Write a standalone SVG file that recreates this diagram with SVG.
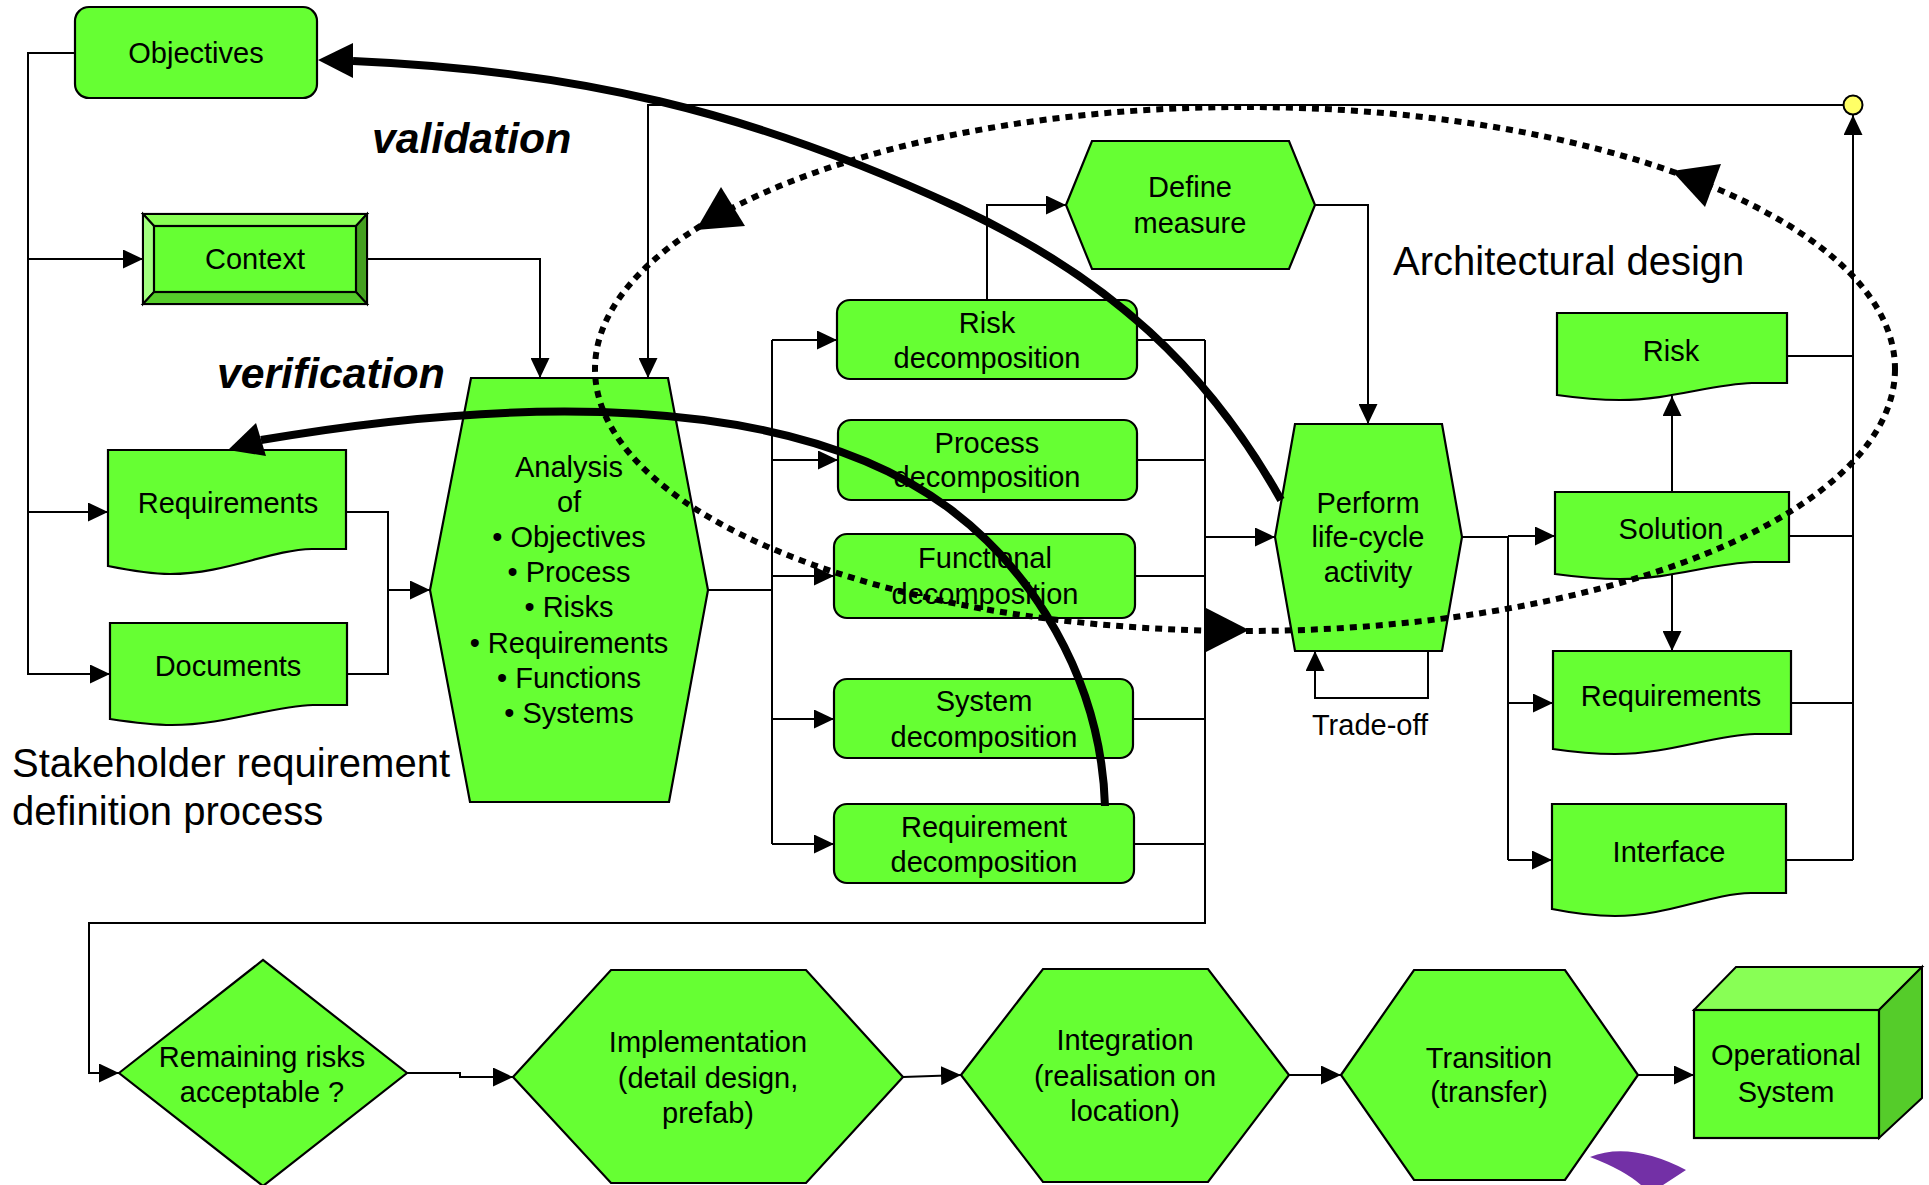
<svg xmlns="http://www.w3.org/2000/svg" width="1929" height="1185" viewBox="0 0 1929 1185">
  <defs>
    <style>
      .n { fill: #66ff33; stroke: #000; stroke-width: 2.2; stroke-linejoin: miter; }
      .lt { fill: #88ff55; stroke: #000; stroke-width: 2; }
      .lt2 { fill: #a2ff80; stroke: #000; stroke-width: 2; }
      .dk { fill: #55cc2a; stroke: #000; stroke-width: 2; }
      .dk2 { fill: #44a020; stroke: #000; stroke-width: 2; }
      .t { font-family: "Liberation Sans", Arial, sans-serif; font-size: 29px; text-anchor: middle; fill: #000; }
      .big { font-family: "Liberation Sans", Arial, sans-serif; font-size: 40px; fill: #000; }
      .bi { font-family: "Liberation Sans", Arial, sans-serif; font-size: 42.7px; font-weight: bold; font-style: italic; fill: #000; }
      .w { fill: none; stroke: #000; stroke-width: 2; }
      .a { fill: none; stroke: #000; stroke-width: 2; marker-end: url(#ah); }
      .thick { fill: none; stroke: #000; stroke-width: 8; }
      .dot { fill: none; stroke: #000; stroke-width: 6; stroke-dasharray: 7 6; }
    </style>
    <marker id="ah" viewBox="0 0 10 10" refX="10" refY="5" markerWidth="20" markerHeight="19" markerUnits="userSpaceOnUse" orient="auto" preserveAspectRatio="none">
      <path d="M0,0 L10,5 L0,10 Z" fill="#000"/>
    </marker>
  </defs>

  <rect width="1929" height="1185" fill="#fff"/>

  <!-- free labels -->
  <text class="bi" x="372" y="153">validation</text>
  <text class="bi" x="217" y="388">verification</text>
  <text class="big" x="12" y="777">Stakeholder requirement</text>
  <text class="big" x="12" y="825">definition process</text>
  <text class="big" x="1393" y="275">Architectural design</text>
  <text class="t" x="1370" y="735">Trade-off</text>

  <!-- nodes -->
  <g id="objectives">
    <rect class="n" x="75" y="7" width="242" height="91" rx="14"/>
    <text class="t" x="196" y="63">Objectives</text>
  </g>

  <g id="context">
    <rect class="n" x="143" y="214" width="224" height="90"/>
    <polygon class="lt" points="143,214 367,214 356,226 154,226"/>
    <polygon class="lt2" points="143,214 154,226 154,292 143,304"/>
    <polygon class="dk2" points="367,214 367,304 356,292 356,226"/>
    <polygon class="dk" points="143,304 154,292 356,292 367,304"/>
    <rect class="n" x="154" y="226" width="202" height="66"/>
    <text class="t" x="255" y="269">Context</text>
  </g>

  <g id="requirements-stakeholder">
    <path class="n" d="M108,450 H346 V549 L312,549 C270,550 225,574 170,574 C150,574 128,570 108,566 Z"/>
    <text class="t" x="228" y="513">Requirements</text>
  </g>

  <g id="documents">
    <path class="n" d="M110,623 H347 V705 L313,705 C271,706 226,725 172,725 C152,725 130,722 110,719 Z"/>
    <text class="t" x="228" y="676">Documents</text>
  </g>

  <g id="analysis">
    <polygon class="n" points="471,378 668,378 708,590 669,802 470,802 430,590"/>
    <text class="t" x="569" y="477">Analysis</text>
    <text class="t" x="569" y="512">of</text>
    <text class="t" x="569" y="547">• Objectives</text>
    <text class="t" x="569" y="582">• Process</text>
    <text class="t" x="569" y="617">• Risks</text>
    <text class="t" x="569" y="653">• Requirements</text>
    <text class="t" x="569" y="688">• Functions</text>
    <text class="t" x="569" y="723">• Systems</text>
  </g>

  <g id="risk-decomposition">
    <rect class="n" x="837" y="300" width="300" height="79" rx="13"/>
    <text class="t" x="987" y="333">Risk</text>
    <text class="t" x="987" y="368">decomposition</text>
  </g>

  <g id="process-decomposition">
    <rect class="n" x="838" y="420" width="299" height="80" rx="13"/>
    <text class="t" x="987" y="453">Process</text>
    <text class="t" x="987" y="487">decomposition</text>
  </g>

  <g id="functional-decomposition">
    <rect class="n" x="834" y="534" width="301" height="84" rx="13"/>
    <text class="t" x="985" y="568">Functional</text>
    <text class="t" x="985" y="604">decomposition</text>
  </g>

  <g id="system-decomposition">
    <rect class="n" x="834" y="679" width="299" height="79" rx="13"/>
    <text class="t" x="984" y="711">System</text>
    <text class="t" x="984" y="747">decomposition</text>
  </g>

  <g id="requirement-decomposition">
    <rect class="n" x="834" y="804" width="300" height="79" rx="13"/>
    <text class="t" x="984" y="837">Requirement</text>
    <text class="t" x="984" y="872">decomposition</text>
  </g>

  <g id="define-measure">
    <polygon class="n" points="1066,205 1092,141 1289,141 1315,205 1289,269 1092,269"/>
    <text class="t" x="1190" y="197">Define</text>
    <text class="t" x="1190" y="233">measure</text>
  </g>

  <g id="perform-activity">
    <polygon class="n" points="1295,424 1442,424 1462,537 1442,651 1295,651 1275,537"/>
    <text class="t" x="1368" y="513">Perform</text>
    <text class="t" x="1368" y="547">life-cycle</text>
    <text class="t" x="1368" y="582">activity</text>
  </g>

  <g id="risk">
    <path class="n" d="M1557,313 H1787 V383 L1752,383 C1712,384 1670,400 1620,400 C1600,400 1578,398 1557,395 Z"/>
    <text class="t" x="1671" y="361">Risk</text>
  </g>

  <g id="solution">
    <path class="n" d="M1555,492 H1789 V562 L1754,562 C1713,563 1672,579 1620,579 C1598,579 1577,577 1555,574 Z"/>
    <text class="t" x="1671" y="539">Solution</text>
  </g>

  <g id="requirements-design">
    <path class="n" d="M1553,651 H1791 V734 L1755,734 C1713,735 1670,754 1615,754 C1594,754 1573,752 1553,749 Z"/>
    <text class="t" x="1671" y="706">Requirements</text>
  </g>

  <g id="interface">
    <path class="n" d="M1552,804 H1786 V893 L1751,893 C1709,894 1668,916 1615,916 C1594,916 1572,913 1552,909 Z"/>
    <text class="t" x="1669" y="862">Interface</text>
  </g>

  <g id="remaining-risks">
    <polygon class="n" points="119,1073 263,960 407,1073 263,1186"/>
    <text class="t" x="262" y="1067">Remaining risks</text>
    <text class="t" x="262" y="1102">acceptable ?</text>
  </g>

  <g id="implementation">
    <polygon class="n" points="513,1077 611,970 806,970 903,1077 806,1183 611,1183"/>
    <text class="t" x="708" y="1052">Implementation</text>
    <text class="t" x="708" y="1088">(detail design,</text>
    <text class="t" x="708" y="1123">prefab)</text>
  </g>

  <g id="integration">
    <polygon class="n" points="961,1075 1043,969 1208,969 1289,1075 1208,1182 1043,1182"/>
    <text class="t" x="1125" y="1050">Integration</text>
    <text class="t" x="1125" y="1086">(realisation on</text>
    <text class="t" x="1125" y="1121">location)</text>
  </g>

  <g id="transition">
    <polygon class="n" points="1341,1075 1414,970 1565,970 1638,1075 1565,1180 1414,1180"/>
    <text class="t" x="1489" y="1068">Transition</text>
    <text class="t" x="1489" y="1102">(transfer)</text>
  </g>

  <g id="operational-system">
    <polygon class="lt" points="1694,1010 1736,967 1922,967 1879,1010"/>
    <polygon class="dk" points="1879,1010 1922,967 1922,1098 1879,1138"/>
    <rect class="n" x="1694" y="1010" width="185" height="128"/>
    <text class="t" x="1786" y="1065">Operational</text>
    <text class="t" x="1786" y="1102">System</text>
  </g>

  <!-- partial logo mark at the bottom edge -->
  <path d="M1590,1157 Q1630,1141 1686,1170 L1663,1185 L1641,1185 Q1624,1170 1590,1157 Z" fill="#7330a6"/>

  <!-- connectors -->
  <g id="connectors">
    <!-- stakeholder side -->
    <path class="a" d="M75,53 H28 V674 H110"/>
    <path class="a" d="M28,259 H143"/>
    <path class="a" d="M28,512 H108"/>
    <path class="a" d="M367,259 H540 V378"/>
    <path class="w" d="M346,512 H388 V674 H347"/>
    <path class="a" d="M388,590 H430"/>

    <!-- analysis to decompositions -->
    <path class="w" d="M708,590 H772"/>
    <path class="w" d="M772,340 V844"/>
    <path class="a" d="M772,340 H837"/>
    <path class="a" d="M772,460 H838"/>
    <path class="a" d="M772,576 H834"/>
    <path class="a" d="M772,719 H834"/>
    <path class="a" d="M772,844 H834"/>

    <!-- decompositions to activity and risk decision -->
    <path class="w" d="M1137,340 H1205 M1137,460 H1205 M1135,576 H1205 M1133,719 H1205 M1134,844 H1205"/>
    <path class="a" d="M1205,340 V923 H89 V1073 H119"/>
    <path class="a" d="M1205,537 H1275"/>
    <path class="a" d="M987,300 V205 H1066"/>
    <path class="a" d="M1315,205 H1368 V424"/>
    <path class="a" d="M1428,651 V698 H1315 V651"/>

    <!-- architectural design outputs -->
    <path class="w" d="M1462,537 H1508 M1508,536 V860"/>
    <path class="a" d="M1508,536 H1555"/>
    <path class="a" d="M1508,703 H1553"/>
    <path class="a" d="M1508,860 H1552"/>
    <path class="a" d="M1672,492 V396"/>
    <path class="a" d="M1672,575 V651"/>
    <path class="w" d="M1787,356 H1853 M1789,536 H1853 M1791,703 H1853 M1786,860 H1853"/>
    <path class="a" d="M1853,860 V115"/>
    <path class="a" d="M1843.5,105 H648 V378"/>
    <circle cx="1853" cy="105" r="9.5" fill="#ffff66" stroke="#000" stroke-width="2"/>

    <!-- realisation chain -->
    <path class="a" d="M407,1073 H460 V1077 H513"/>
    <path class="a" d="M903,1077 L961,1075"/>
    <path class="a" d="M1289,1075 H1341"/>
    <path class="a" d="M1638,1075 H1694"/>

    <!-- iteration cycle -->
    <ellipse class="dot" cx="1245" cy="369" rx="650" ry="262"/>
    <polygon points="696,230 745,226 721,187" fill="#000"/>
    <polygon points="1672,171 1705,207 1721,164" fill="#000"/>
    <polygon points="1249,630 1206,608 1206,652" fill="#000"/>

    <!-- validation -->
    <path class="thick" d="M1281,500 C1207.5,369.5 1111,278.6 957,207 C748.4,110.2 573,70.5 353,61"/>
    <polygon points="318,60 353,43 353,78" fill="#000"/>

    <!-- verification -->
    <path class="thick" d="M1105,806 C1101,676 1030,569 950,509 C790,389 507.5,398 261,440"/>
    <polygon points="228,450 256,423 266,456" fill="#000"/>
  </g>
</svg>
